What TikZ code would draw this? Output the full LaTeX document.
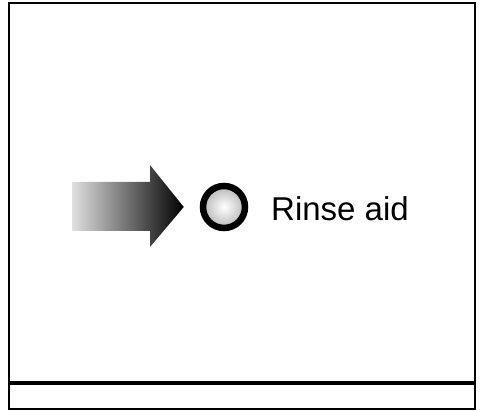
\documentclass[tikz,border=0pt]{standalone}
\usepackage{fontspec}
\setmainfont{Liberation Sans}
\usetikzlibrary{positioning}

\begin{document}
\begin{tikzpicture}[
  x=1pt, y=1pt,
  frame/.style={draw, line width=2pt},
  lamp/.style={circle, draw, line width=6.5pt, minimum size=42pt, inner sep=0pt,
    inner color=white, outer color=black!28},
  caption/.style={font=\fontsize{33}{40}\selectfont, inner sep=0pt, anchor=base west}
]
\useasboundingbox (0,0) rectangle (480,411);
\draw[frame] (8.5,2) rectangle (475,408);
\draw[line width=4pt] (8.5,28) -- (475,28);
% indicator lamp and its caption
\node[lamp] (lamp) at (224,204) {};
\node[caption] (label) at (271,190) {Rinse aid};
% block arrow pointing at the lamp
\coordinate (tip) at ([xshift=-16pt]lamp.west);
\shade[left color=black!12, right color=black]
  (72,180) -- (150,180) -- (150,164) -- (tip) -- (150,246) -- (150,229) -- (72,229) -- cycle;
\end{tikzpicture}
\end{document}
